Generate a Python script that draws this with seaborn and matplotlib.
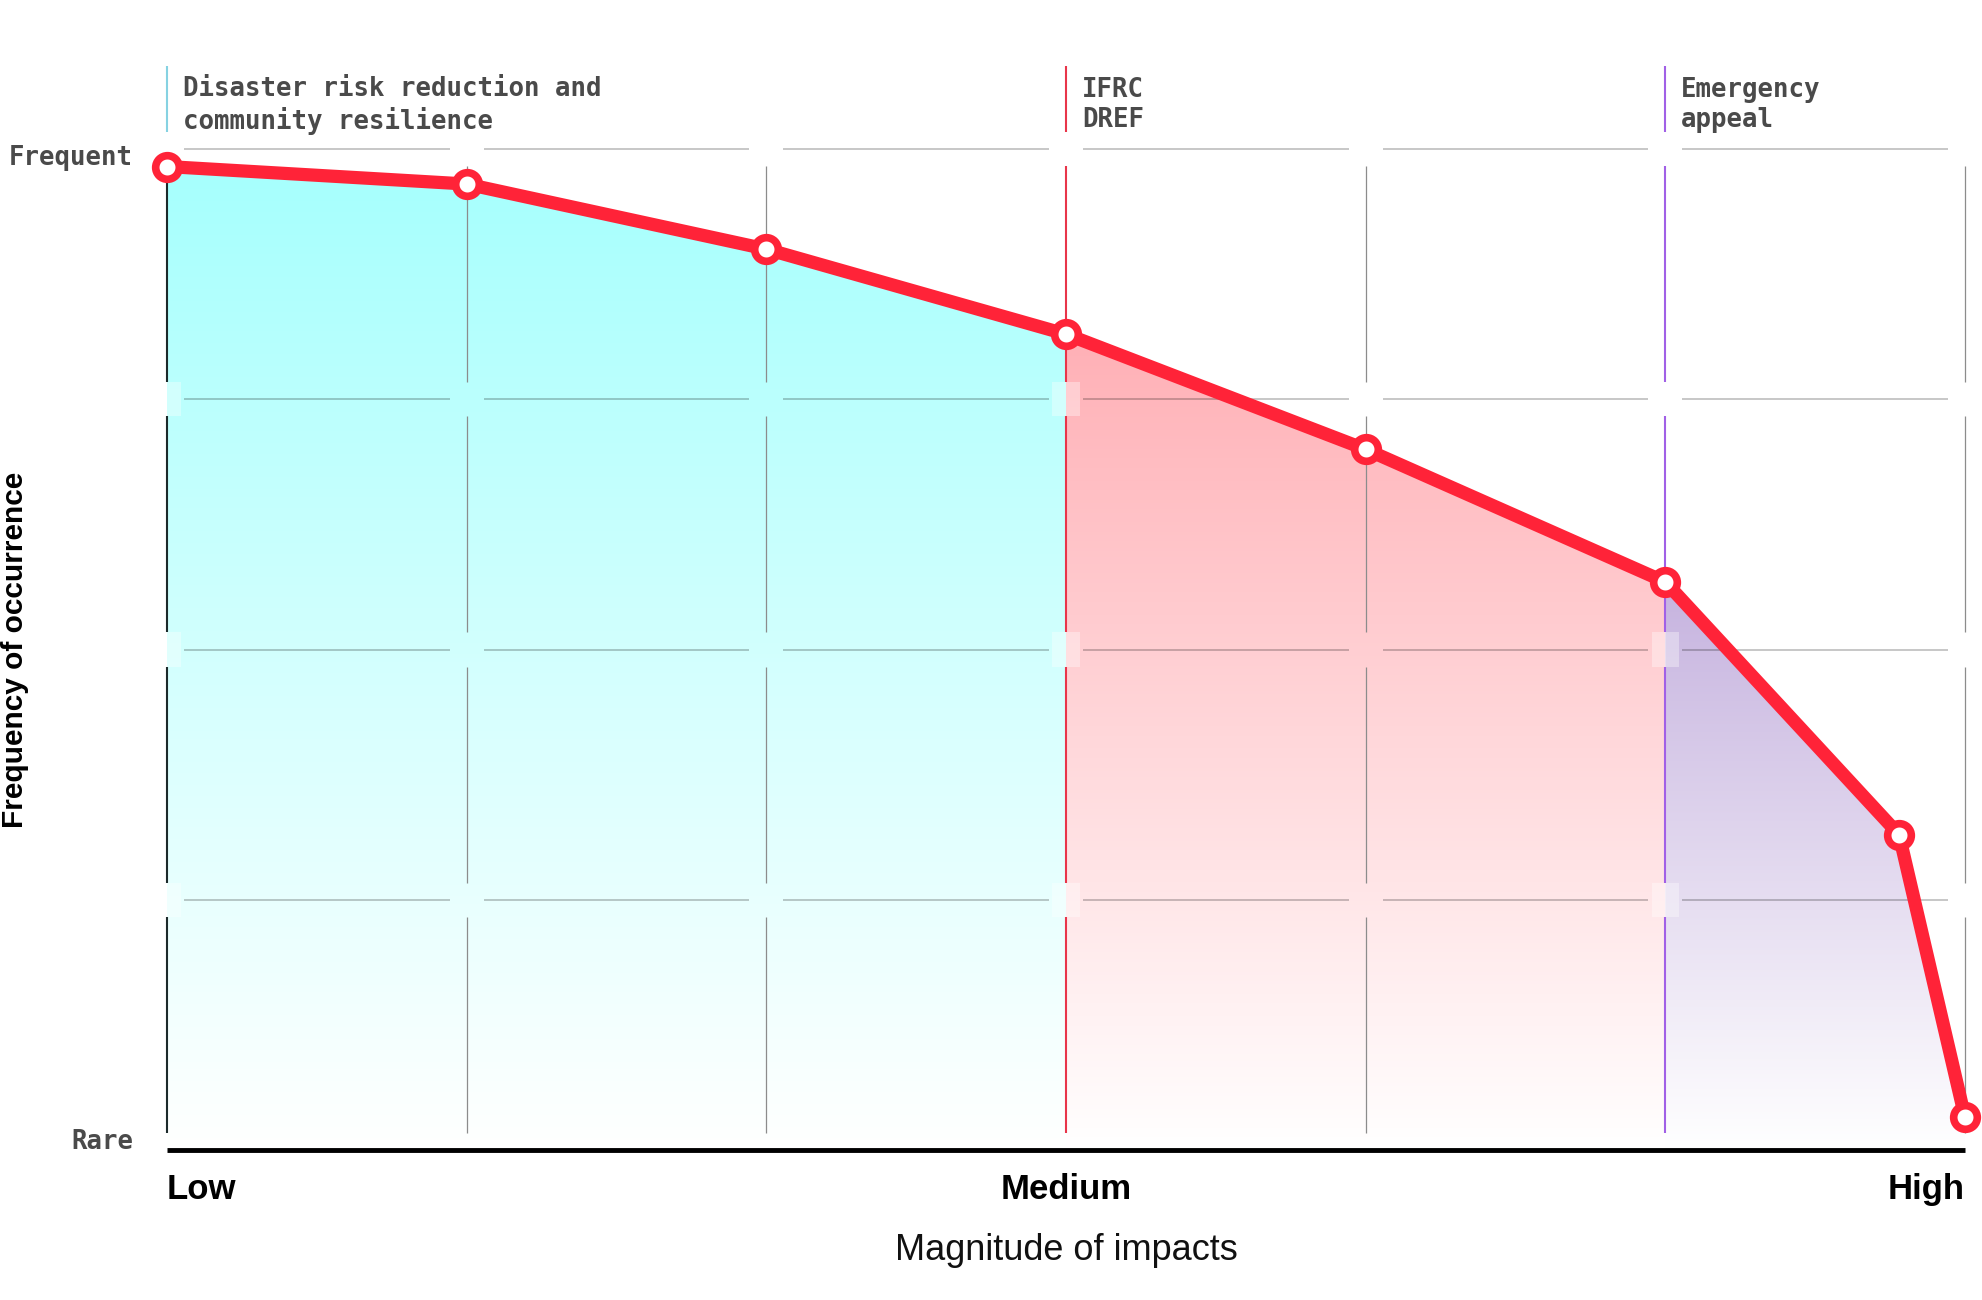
import numpy as np
import seaborn as sns
import matplotlib.pyplot as plt
from matplotlib.colors import LinearSegmentedColormap
from matplotlib.patches import Polygon, Rectangle

# curve values (x = magnitude columns, y = frequency rows)
magnitude = [0, 1, 2, 3, 4, 5, 5.78, 6]
frequency = [3.93, 3.86, 3.60, 3.26, 2.80, 2.27, 1.26, 0.13]

band_start = [0, 3, 5]
band_end = [3, 5, 6]
band_labels = ['Disaster risk reduction and\ncommunity resilience', 'IFRC\nDREF', 'Emergency\nappeal']

x_tick_pos = [0, 3, 6]
x_tick_labels = ['Low', 'Medium', 'High']
y_tick_labels = ['Rare', 'Frequent']

# styles
fill_colors = ['#a6fffd', '#ffb0b6', '#c6b3df']
band_line_colors = ['#86d2e2', '#e8354a', '#a160e6']
red = '#ff2338'
mono_color = '#4a4a4a'

sns.set_theme(style='white')
plt.rcParams['font.family'] = ['Liberation Sans', 'DejaVu Sans']

fig = plt.figure(figsize=(19.83, 13), dpi=100)
ax = fig.add_axes([0.08422, 0.11538, 0.90671, 0.84700])

# gradient fills under the curve, one per band
grad = np.linspace(0, 1, 256).reshape(-1, 1)
for x0, x1, col in zip(band_start, band_end, fill_colors):
    pts = [(x, y) for x, y in zip(magnitude, frequency) if x0 <= x <= x1]
    verts = [(x0, 0)] + pts + [(x1, 0)]
    poly = Polygon(verts, closed=True, facecolor='none', edgecolor='none')
    ax.add_patch(poly)
    top = max(y for _, y in pts)
    cmap = LinearSegmentedColormap.from_list('g', ['white', col])
    im = ax.imshow(grad, cmap=cmap, origin='lower', extent=(x0, x1, 0, top),
                   aspect='auto', zorder=1)
    im.set_clip_path(poly)

# segmented grid with gaps at crossings
gx, gy = 0.057, 0.068
for i in range(6):
    ax.hlines([1, 2, 3, 4], i + gx, i + 1 - gx, color='black', alpha=0.28, lw=1.1, zorder=3)
col_colors = {0: '#1c2a2b', 3: band_line_colors[1], 5: band_line_colors[2]}
for j in range(7):
    c = col_colors.get(j, '#8c8c8c')
    lw = 1.5 if j in col_colors else 0.9
    for i in range(4):
        ax.vlines(j, i + gy, i + 1 - gy, color=c, lw=lw, zorder=3, clip_on=False)
for j in [0, 3, 5]:
    for i in [1, 2, 3]:
        ax.add_patch(Rectangle((j - gx * 0.8, i - gy), gx * 1.6, gy * 2,
                               facecolor='white', alpha=0.35, edgecolor='none', zorder=2))

ax.hlines(0, 0, 6, color='black', lw=3.5, zorder=4, clip_on=False)

# band markers and labels above the chart
for x0, lc, lab in zip(band_start, band_line_colors, band_labels):
    ax.vlines(x0, 4.066, 4.33, color=lc, lw=1.5, clip_on=False)
    ax.text(x0 + 0.053, 4.174, lab, family='DejaVu Sans Mono', fontsize=18.5,
            fontweight='bold', color=mono_color, ha='left', va='center', linespacing=1.2)

# curve
sns.lineplot(x=magnitude, y=frequency, ax=ax, color=red, lw=9.5, marker='o',
             markersize=17, markerfacecolor='white', markeredgecolor=red,
             markeredgewidth=5.5, clip_on=False, zorder=6)

ax.set_xlim(0, 6)
ax.set_ylim(0, 4.4)
ax.set_xticks([])
ax.set_yticks([])
for s in ax.spines.values():
    s.set_visible(False)

# axis texts
ax.text(-0.113, 3.964, y_tick_labels[1], family='DejaVu Sans Mono', fontsize=18.5,
        fontweight='bold', color=mono_color, ha='right', va='center')
ax.text(-0.113, 0.032, y_tick_labels[0], family='DejaVu Sans Mono', fontsize=18.5,
        fontweight='bold', color=mono_color, ha='right', va='center')
for x, lab, ha in zip(x_tick_pos, x_tick_labels, ['left', 'center', 'right']):
    ax.text(x, -0.156, lab, fontsize=25, fontweight='bold', color='black', ha=ha, va='center')
ax.text(3, -0.40, 'Magnitude of impacts', fontsize=26, color='#111111', ha='center', va='center')
ax.text(-0.507, 2.0, 'Frequency of occurrence', fontsize=21.5, fontweight='bold',
        color='black', rotation=90, ha='center', va='center')

fig.savefig('out.png', dpi=100)
